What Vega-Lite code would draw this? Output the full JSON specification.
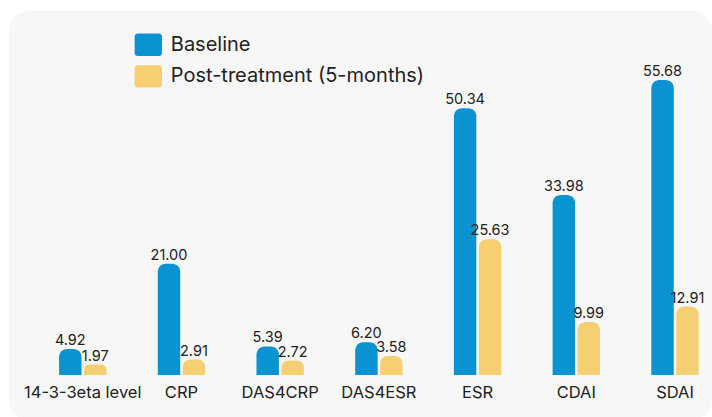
{
  "$schema": "https://vega.github.io/schema/vega-lite/v6.json",
  "width": 703,
  "height": 409,
  "autosize": {"type": "none"},
  "padding": {"left": 9, "top": 11, "right": 0, "bottom": 0},
  "background": "white",
  "config": {
    "view": {"fill": "#f7f7f7", "stroke": null, "cornerRadius": 20},
    "font": "Inter"
  },
  "data": {
    "values": [
      {"metric": "14-3-3eta level", "period": "Baseline", "value": 4.92},
      {"metric": "14-3-3eta level", "period": "Post-treatment (5-months)", "value": 1.97},
      {"metric": "CRP", "period": "Baseline", "value": 21.00},
      {"metric": "CRP", "period": "Post-treatment (5-months)", "value": 2.91},
      {"metric": "DAS4CRP", "period": "Baseline", "value": 5.39},
      {"metric": "DAS4CRP", "period": "Post-treatment (5-months)", "value": 2.72},
      {"metric": "DAS4ESR", "period": "Baseline", "value": 6.20},
      {"metric": "DAS4ESR", "period": "Post-treatment (5-months)", "value": 3.58},
      {"metric": "ESR", "period": "Baseline", "value": 50.34},
      {"metric": "ESR", "period": "Post-treatment (5-months)", "value": 25.63},
      {"metric": "CDAI", "period": "Baseline", "value": 33.98},
      {"metric": "CDAI", "period": "Post-treatment (5-months)", "value": 9.99},
      {"metric": "SDAI", "period": "Baseline", "value": 55.68},
      {"metric": "SDAI", "period": "Post-treatment (5-months)", "value": 12.91}
    ]
  },
  "encoding": {
    "x": {
      "field": "metric",
      "type": "nominal",
      "sort": null,
      "scale": {"paddingInner": 0.52, "paddingOuter": 0.321, "align": 0.79},
      "axis": {
        "title": null,
        "domain": false,
        "ticks": false,
        "labelAngle": 0,
        "offset": -45,
        "labelPadding": 9,
        "labelFontSize": 16.5,
        "labelColor": "#222222",
        "labelFont": "Inter"
      }
    },
    "xOffset": {
      "field": "period",
      "type": "nominal",
      "sort": ["Baseline", "Post-treatment (5-months)"],
      "scale": {"paddingInner": 0.1}
    },
    "y": {
      "field": "value",
      "type": "quantitative",
      "scale": {"domain": [-8.49, 68.68], "nice": false, "zero": false},
      "axis": null
    }
  },
  "layer": [
    {
      "mark": {"type": "bar", "cornerRadiusTopLeft": 8, "cornerRadiusTopRight": 8},
      "encoding": {
        "y2": {"datum": 0},
        "color": {
          "field": "period",
          "type": "nominal",
          "scale": {
            "domain": ["Baseline", "Post-treatment (5-months)"],
            "range": ["#0b93d1", "#f5cf72"]
          },
          "legend": {
            "orient": "none",
            "legendX": 127.8,
            "legendY": 22.3,
            "title": null,
            "symbolType": "M-0.95,-1L0.95,-1A0.27,0.27 0 0 1 1.22,-0.73L1.22,0.73A0.27,0.27 0 0 1 0.95,1L-0.95,1A0.27,0.27 0 0 1 -1.22,0.73L-1.22,-0.73A0.27,0.27 0 0 1 -0.95,-1Z",
            "symbolSize": 502,
            "symbolStrokeWidth": 0,
            "symbolOpacity": 1,
            "labelFontSize": 20,
            "labelFont": "Inter",
            "labelColor": "#222222",
            "labelOffset": 11,
            "labelLimit": 400,
            "rowPadding": 8.6,
            "padding": 0
          }
        }
      }
    },
    {
      "mark": {"type": "text", "baseline": "alphabetic", "dy": -4, "fontSize": 14.5, "color": "#222222", "font": "Inter"},
      "encoding": {
        "text": {"field": "value", "type": "quantitative", "format": ".2f"}
      }
    }
  ]
}
